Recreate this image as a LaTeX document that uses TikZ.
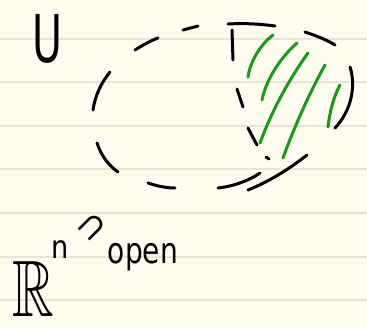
\documentclass[tikz,border=0pt]{standalone}
\usepackage{amssymb}
\usepackage{fontspec}
\setmainfont{DejaVu Sans}
\definecolor{paper}{HTML}{FEFCEE}
\definecolor{rule}{HTML}{E8E4D4}
\definecolor{hatch}{HTML}{1A9A1A}
\begin{document}
\begin{tikzpicture}[x=1pt,y=-1pt,
  ink/.style={line width=3pt,line cap=round,line join=round,black},
  hatchline/.style={line width=3pt,line cap=round,hatch},
  ruled/.style={line width=1.2pt,rule},
  handtext/.style={inner sep=0pt,outer sep=0pt,text=black}]
\fill[paper] (0,0) rectangle (367,327);
\useasboundingbox (0,0) rectangle (367,327);
% ruled lines
\foreach \yy in {39,82,126,169,213,257,300}
  \draw[ruled] (0,\yy) -- (367,\yy);
% labels
\node[handtext,font=\fontsize{66}{66}\selectfont,xscale=0.62] (U) at (47,39) {U};
\node[handtext,font=\fontsize{80}{80}\selectfont,xscale=0.72] (R) at (33,289) {$\mathbb{R}$};
\node[handtext,font=\fontsize{32}{32}\selectfont,xscale=0.85] (n) at (60,250) {n};
\node[handtext,font=\fontsize{36}{36}\selectfont,rotate=45] (sup) at (93,228) {⊃};
\node[handtext,font=\fontsize{36}{36}\selectfont,xscale=0.78] (open) at (143,257) {open};
% dashed ellipse (hand-drawn dashes)
\draw[ink] (135,50) .. controls (143,45) and (150,41) .. (158,38);
\draw[ink] (183,30) -- (198,26);
\draw[ink] (228,24) .. controls (245,23) and (260,24) .. (275,26);
\draw[ink] (305,32) .. controls (317,36) and (327,40) .. (335,45);
\draw[ink] (350,67) .. controls (356,85) and (352,110) .. (335,128);
\draw[ink] (307,155) .. controls (288,170) and (268,182) .. (248,190);
\draw[ink] (218,188) .. controls (235,186) and (250,180) .. (260,173);
\draw[ink] (148,183) .. controls (157,186) and (166,188) .. (175,188);
\draw[ink] (97,143) .. controls (101,155) and (108,165) .. (118,172);
\draw[ink] (93,110) .. controls (95,96) and (101,83) .. (110,72);
% inner boundary of shaded part
\draw[ink] (232,30) -- (233,60);
\draw[ink] (237,89) -- (243,107);
\draw[ink] (248,128) -- (257,145);
\draw[ink] (266,157) -- (269,159);
% green hatching
\draw[hatchline] (248,77) .. controls (250,62) and (260,45) .. (273,35);
\draw[hatchline] (262,100) .. controls (266,80) and (280,58) .. (297,43);
\draw[hatchline] (260,143) .. controls (272,110) and (290,78) .. (308,53);
\draw[hatchline] (283,158) .. controls (295,125) and (310,92) .. (325,65);
\draw[hatchline] (328,127) .. controls (330,110) and (334,96) .. (340,85);
\end{tikzpicture}
\end{document}
